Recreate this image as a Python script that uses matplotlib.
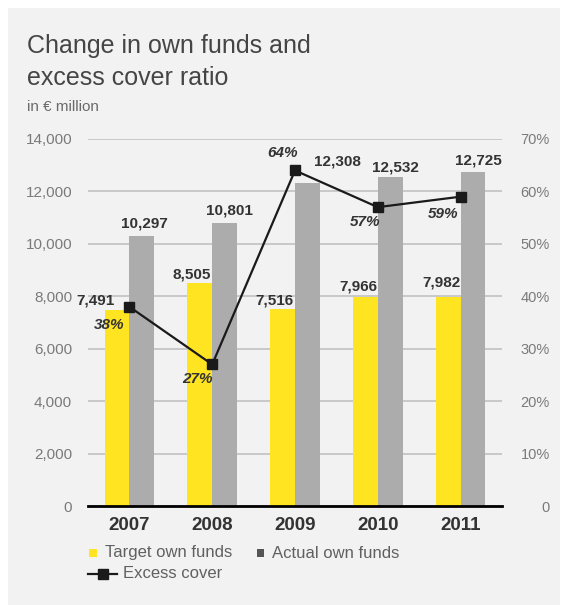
import matplotlib

matplotlib.use("Agg")
import matplotlib.pyplot as plt
import numpy as np
from matplotlib.lines import Line2D
from matplotlib.patches import Rectangle

plt.rcParams["font.family"] = ["Liberation Sans", "DejaVu Sans"]

years = ["2007", "2008", "2009", "2010", "2011"]
target_funds = [7491, 8505, 7516, 7966, 7982]
actual_funds = [10297, 10801, 12308, 12532, 12725]
excess_cover = [38, 27, 64, 57, 59]

left_ticks = [0, 2000, 4000, 6000, 8000, 10000, 12000, 14000]
right_ticks = [0, 10, 20, 30, 40, 50, 60, 70]

YELLOW = "#ffe521"
GREY = "#acacac"
PANEL = "#f2f2f2"
DARK = "#333333"
TICK = "#7a7a7a"

W, H = 563, 605
fig = plt.figure(figsize=(W / 100, H / 100), dpi=100)
fig.patch.set_facecolor("white")


def fx(px):
    return px / W


def fy(py):
    return 1 - py / H


fig.add_artist(Rectangle((fx(8), 0), fx(552), fy(8), transform=fig.transFigure,
                         facecolor=PANEL, edgecolor="none", zorder=-10))

ax = fig.add_axes([fx(88), fy(506), fx(502 - 88), (506 - 139) / H])
ax.set_facecolor("none")
x = np.arange(len(years))
bw = 0.3
ax.bar(x - bw / 2, target_funds, bw, color=YELLOW, zorder=2)
ax.bar(x + bw / 2, actual_funds, bw, color=GREY, zorder=2)

ax.set_xlim(-0.5, 4.5)
ax.set_ylim(0, 14000)
ax.set_yticks(left_ticks)
ax.set_yticklabels([f"{v:,}" for v in left_ticks])
ax.set_xticks(x)
ax.set_xticklabels(years)
ax.grid(axis="y", color="#bdbdbd", lw=1.1, zorder=1)
ax.set_axisbelow(True)
for s in ["top", "left", "right"]:
    ax.spines[s].set_visible(False)
ax.spines["bottom"].set_color("black")
ax.spines["bottom"].set_linewidth(2)
ax.spines["bottom"].set_zorder(5)
ax.tick_params(axis="y", length=0, pad=11.5, labelsize=11, labelcolor=TICK)
ax.tick_params(axis="x", length=0, pad=8, labelsize=13.5, labelcolor=DARK)
for t in ax.get_xticklabels():
    t.set_fontweight("bold")

# value labels on the bars (offsets in pixels, converted to points)
tgt_off = [(-21, 9), (-8, 9), (-8, 8), (-7, 11), (-7, 14)]
act_off = [(3, 13), (5, 12), (30, 22), (5, 10), (5, 12)]
for i in range(len(years)):
    dx, dy = tgt_off[i]
    ax.annotate(f"{target_funds[i]:,}", (x[i] - bw / 2, target_funds[i]),
                xytext=(dx * 0.72, dy * 0.72), textcoords="offset points",
                ha="center", va="center", fontsize=11, fontweight="bold",
                color=DARK, zorder=6)
    dx, dy = act_off[i]
    ax.annotate(f"{actual_funds[i]:,}", (x[i] + bw / 2, actual_funds[i]),
                xytext=(dx * 0.72, dy * 0.72), textcoords="offset points",
                ha="center", va="center", fontsize=11, fontweight="bold",
                color=DARK, zorder=6)

ax2 = ax.twinx()
ax2.set_ylim(0, 70)
ax2.set_yticks(right_ticks)
ax2.set_yticklabels(["0"] + [f"{v}%" for v in right_ticks[1:]])
for t in ax2.get_yticklabels():
    t.set_ha("right")
ax2.tick_params(axis="y", length=0, pad=34.5, labelsize=10.5, labelcolor=TICK)
for s in ax2.spines.values():
    s.set_visible(False)
ax2.plot(x, excess_cover, color="#1a1a1a", lw=1.6, marker="s", markersize=7,
         zorder=4)

pct_off = [(-20, -18), (-15, -15), (-12, 17), (-13, -15), (-18, -17)]
for i in range(len(years)):
    dx, dy = pct_off[i]
    ax2.annotate(f"{excess_cover[i]}%", (x[i], excess_cover[i]),
                 xytext=(dx * 0.72, dy * 0.72), textcoords="offset points",
                 ha="center", va="center", fontsize=11, fontweight="bold",
                 fontstyle="italic", color=DARK, zorder=6)

# title block
fig.text(fx(27), fy(53), "Change in own funds and", fontsize=18, color="#454545",
         va="baseline")
fig.text(fx(27), fy(85), "excess cover ratio", fontsize=18, color="#454545",
         va="baseline")
fig.text(fx(27), fy(107), "in € million", fontsize=11, color="#6a6a6a",
         va="center")

# legend
LEG = "#606060"
fig.add_artist(Rectangle((fx(89), fy(557)), fx(8), 8 / H, transform=fig.transFigure,
                         facecolor=YELLOW, edgecolor="none"))
fig.text(fx(105), fy(553), "Target own funds", fontsize=12, color=LEG,
         va="center")
fig.add_artist(Rectangle((fx(257), fy(557)), fx(7), 8 / H, transform=fig.transFigure,
                         facecolor="#555555", edgecolor="none"))
fig.text(fx(272), fy(553), "Actual own funds", fontsize=12, color=LEG,
         va="center")
fig.add_artist(Line2D([fx(88), fx(117)], [fy(574), fy(574)], transform=fig.transFigure,
                      color="#1a1a1a", lw=1.6))
fig.add_artist(Line2D([fx(103)], [fy(574)], transform=fig.transFigure,
                      color="#1a1a1a", marker="s", markersize=6.5))
fig.text(fx(123), fy(574), "Excess cover", fontsize=12, color=LEG,
         va="center")

fig.savefig("out.png", dpi=100)
